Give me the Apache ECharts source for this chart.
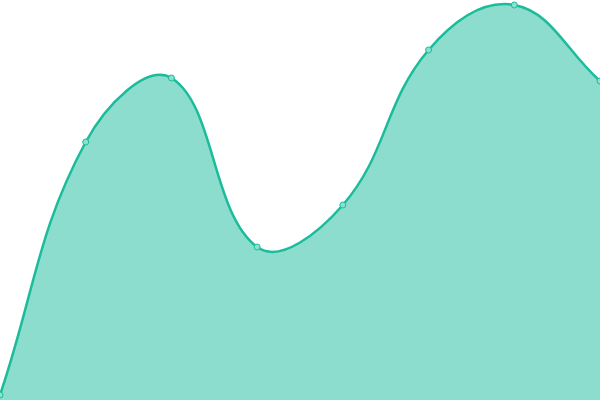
<!DOCTYPE html>
<html><head><meta charset="utf-8">
<script src="https://cdn.jsdelivr.net/npm/echarts@6/dist/echarts.min.js"></script>
<style>html,body{margin:0;padding:0;background:#fff}#c{width:600px;height:400px}</style>
</head><body><div id="c"></div>
<script>
var categories = ['A','B','C','D','E','F','G','H'];
var values = [5, 258, 322, 153, 195, 350, 395, 319];
var TENSION = 0.4;

function splinePath(pts, tension) {
  var n = pts.length, cps = [];
  for (var i = 0; i < n; i++) {
    var p = pts[i], prev = pts[Math.max(0, i - 1)], next = pts[Math.min(n - 1, i + 1)];
    var d01 = Math.hypot(p[0] - prev[0], p[1] - prev[1]);
    var d12 = Math.hypot(next[0] - p[0], next[1] - p[1]);
    var s = d01 + d12 || 1;
    var fa = tension * d01 / s, fb = tension * d12 / s;
    var vx = next[0] - prev[0], vy = next[1] - prev[1];
    cps.push({
      inX: p[0] - fa * vx, inY: p[1] - fa * vy,
      outX: p[0] + fb * vx, outY: p[1] + fb * vy
    });
  }
  var d = 'M' + pts[0][0] + ' ' + pts[0][1];
  for (var j = 1; j < n; j++) {
    d += ' C' + cps[j - 1].outX + ' ' + cps[j - 1].outY + ' ' + cps[j].inX + ' ' + cps[j].inY + ' ' + pts[j][0] + ' ' + pts[j][1];
  }
  return d;
}

var chart = echarts.init(document.getElementById('c'));
chart.setOption({
  animation: false,
  grid: {left: 0, right: 0, top: 0, bottom: 0},
  xAxis: {type: 'category', data: categories, boundaryGap: false, show: false},
  yAxis: {type: 'value', min: 0, max: 400, show: false},
  series: [{
    type: 'custom',
    data: values.map(function (v, i) { return [i, v]; }),
    encode: {x: 0, y: 1},
    clip: false,
    renderItem: function (params, api) {
      if (params.dataIndex !== 0) return null;
      var pts = values.map(function (v, i) { return api.coord([i, v]); });
      var base = api.coord([0, 0])[1];
      var line = splinePath(pts, TENSION);
      var area = line + ' L' + pts[pts.length - 1][0] + ' ' + base + ' L' + pts[0][0] + ' ' + base + ' Z';
      return {
        type: 'group',
        children: [
          {type: 'path', shape: {pathData: area}, style: {fill: 'rgba(26,188,156,0.5)', stroke: null}},
          {type: 'path', shape: {pathData: line}, style: {fill: null, stroke: '#1abc9c', lineWidth: 2.5}}
        ]
      };
    }
  }, {
    type: 'scatter',
    data: values,
    symbol: 'circle',
    symbolSize: 6,
    z: 5,
    itemStyle: {color: '#8ce0d0', borderColor: '#1abc9c', borderWidth: 1, opacity: 1}
  }]
});
</script></body></html>
